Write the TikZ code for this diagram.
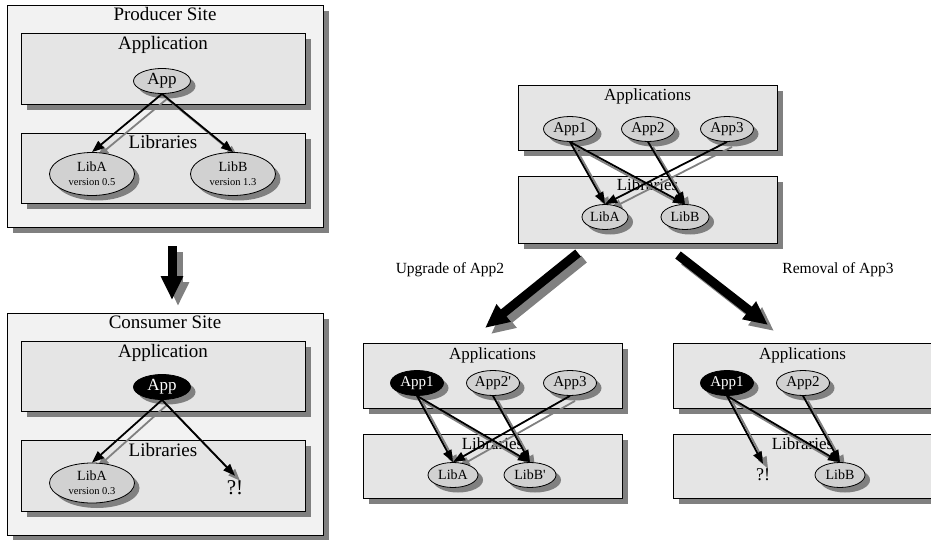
\documentclass[tikz,border=0pt]{standalone}
\usepackage{fontspec}
\setmainfont{Liberation Serif}[Ligatures=TeXOff]
\usepackage{tikz}
\usetikzlibrary{arrows.meta,shadows,shapes.geometric}
\definecolor{sitegray}{gray}{0.95}
\definecolor{boxgray}{gray}{0.90}
\definecolor{nodegray}{gray}{0.82}
\definecolor{shadegray}{gray}{0.5}
\pgfdeclarelayer{back}
\pgfdeclarelayer{mid}
\pgfsetlayers{back,mid,main}
\tikzstyle{Site}=[rectangle, draw=black, fill=sitegray, line width=0.8pt, drop shadow={shadow xshift=6pt, shadow yshift=-6pt, fill=shadegray, opacity=1}]
\tikzstyle{Layer}=[Site, fill=boxgray]
\tikzstyle{Comp}=[ellipse, draw=black, fill=nodegray, inner sep=0pt, line width=0.8pt, drop shadow={shadow xshift=5pt, shadow yshift=-5pt, fill=shadegray, opacity=1}]
\tikzstyle{Hot}=[Comp, fill=black, text=white]
\tikzstyle{dep}=[draw=black, line width=1.8pt, -{Triangle[length=12pt,width=9pt]}]
\tikzstyle{depshade}=[dep, draw=shadegray, fill=shadegray]
\tikzstyle{bigarrow}=[draw=black, line width=9pt, -{Triangle[length=24pt,width=21pt]}]
\tikzstyle{bigshade}=[bigarrow, draw=shadegray]
\tikzstyle{T19}=[font=\fontsize{19pt}{22pt}\selectfont, anchor=base, inner sep=0pt]
\tikzstyle{T17}=[font=\fontsize{17pt}{20pt}\selectfont, anchor=base, inner sep=0pt]
\tikzstyle{T15}=[font=\fontsize{15.5pt}{18pt}\selectfont, anchor=base, inner sep=0pt]

\begin{document}
\begin{tikzpicture}[x=1pt, y=-1pt]
    \clip (0,0) rectangle (931,540);

    \begin{pgfonlayer}{back}
    \path
    (165,116) node[Site, minimum width=316pt, minimum height=222pt] (psite) {}
    (163,68.5) node[Layer, minimum width=284pt, minimum height=71pt] (papps) {}
    (163,168) node[Layer, minimum width=284pt, minimum height=70pt] (plibs) {}
    (165,21) node[T19] (ptitle) {Producer Site}
    (163,49.5) node[T19] (pappt) {Application}
    (163,149) node[T19] (plibt) {Libraries}

    (165,424) node[Site, minimum width=316pt, minimum height=222pt] (csite) {}
    (163,376) node[Layer, minimum width=284pt, minimum height=70pt] (capps) {}
    (163,475.5) node[Layer, minimum width=284pt, minimum height=71pt] (clibs) {}
    (165,328.5) node[T19] (ctitle) {Consumer Site}
    (163,357.5) node[T19] (cappt) {Application}
    (163,456) node[T19] (clibt) {Libraries};

    \path
    (647.5,117.5) node[Layer, minimum width=259pt, minimum height=65pt] (tapps) {}
    (647.5,209.5) node[Layer, minimum width=259pt, minimum height=67pt] (tlibs) {}
    (647.5,101) node[T17] (tappt) {Applications}
    (647.5,190) node[T17] (tlibt) {Libraries}

    (492.5,375.5) node[Layer, minimum width=259pt, minimum height=65pt] (uapps) {}
    (492.5,466) node[Layer, minimum width=259pt, minimum height=64pt] (ulibs) {}
    (492.5,359.5) node[T17] (uappt) {Applications}
    (492.5,449.5) node[T17] (ulibt) {Libraries}

    (802.5,375.5) node[Layer, minimum width=259pt, minimum height=65pt] (rapps) {}
    (802.5,466) node[Layer, minimum width=259pt, minimum height=64pt] (rlibs) {}
    (802.5,359.5) node[T17] (rappt) {Applications}
    (802.5,449.5) node[T17] (rlibt) {Libraries};
    \end{pgfonlayer}

    \path
    (162,81) node[Comp, minimum width=57pt, minimum height=25pt, font=\fontsize{17pt}{20pt}\selectfont] (papp) {App}
    (92,174) node[Comp, minimum width=85pt, minimum height=43pt, align=center, font=\fontsize{14pt}{16pt}\selectfont] (pliba) {LibA\\[-2pt]{\fontsize{10.5pt}{12pt}\selectfont version 0.5}}
    (233,174) node[Comp, minimum width=85pt, minimum height=43pt, align=center, font=\fontsize{14pt}{16pt}\selectfont] (plibb) {LibB\\[-2pt]{\fontsize{10.5pt}{12pt}\selectfont version 1.3}}

    (162,387) node[Hot, minimum width=57pt, minimum height=25pt, font=\fontsize{17pt}{20pt}\selectfont] (capp) {App}
    (92,483) node[Comp, minimum width=85pt, minimum height=40pt, align=center, font=\fontsize{14pt}{16pt}\selectfont] (cliba) {LibA\\[-2pt]{\fontsize{10.5pt}{12pt}\selectfont version 0.3}}
    (235,488) node[font=\fontsize{21pt}{24pt}\selectfont, inner sep=5pt] (cmiss) {?!}

    (570,129) node[Comp, minimum width=53pt, minimum height=25pt, font=\fontsize{15pt}{18pt}\selectfont] (tapp1) {App1}
    (648,129) node[Comp, minimum width=53pt, minimum height=25pt, font=\fontsize{15pt}{18pt}\selectfont] (tapp2) {App2}
    (727,129) node[Comp, minimum width=53pt, minimum height=25pt, font=\fontsize{15pt}{18pt}\selectfont] (tapp3) {App3}
    (605,217) node[Comp, minimum width=46pt, minimum height=25pt, font=\fontsize{14pt}{17pt}\selectfont] (tliba) {LibA}
    (685,217) node[Comp, minimum width=48pt, minimum height=25pt, font=\fontsize{14pt}{17pt}\selectfont] (tlibb) {LibB}

    (417,383) node[Hot, minimum width=53pt, minimum height=25pt, font=\fontsize{15pt}{18pt}\selectfont] (uapp1) {App1}
    (493,383) node[Comp, minimum width=53pt, minimum height=25pt, font=\fontsize{15pt}{18pt}\selectfont] (uapp2) {App2'}
    (570,383) node[Comp, minimum width=53pt, minimum height=25pt, font=\fontsize{15pt}{18pt}\selectfont] (uapp3) {App3}
    (453,475) node[Comp, minimum width=50pt, minimum height=25pt, font=\fontsize{14pt}{17pt}\selectfont] (uliba) {LibA}
    (530,475) node[Comp, minimum width=52pt, minimum height=25pt, font=\fontsize{14pt}{17pt}\selectfont] (ulibb) {LibB'}

    (727,383) node[Hot, minimum width=53pt, minimum height=25pt, font=\fontsize{15pt}{18pt}\selectfont] (rapp1) {App1}
    (803,383) node[Comp, minimum width=53pt, minimum height=25pt, font=\fontsize{15pt}{18pt}\selectfont] (rapp2) {App2}
    (763,475) node[font=\fontsize{18pt}{21pt}\selectfont, inner sep=5pt] (rmiss) {?!}
    (840,475) node[Comp, minimum width=50pt, minimum height=25pt, font=\fontsize{14pt}{17pt}\selectfont] (rlibb) {LibB};

    \foreach \a/\b in {papp/pliba, papp/plibb, capp/cliba, capp/cmiss,
        tapp1/tliba, tapp1/tlibb, tapp2/tlibb, tapp3/tliba,
        uapp1/uliba, uapp1/ulibb, uapp2/ulibb, uapp3/uliba,
        rapp1/rmiss, rapp1/rlibb, rapp2/rlibb} {
      \begin{pgfonlayer}{mid}
      \draw[depshade] ([shift={(5,5)}]\a.south) -- ([shift={(5,5)}]\b.north);
      \end{pgfonlayer}
      \draw[dep] (\a.south) -- (\b.north);
    }

    \coordinate (dn1) at (172,246);
    \coordinate (dn2) at (172,300);
    \coordinate (up1) at (578,253);
    \coordinate (up2) at (485,328);
    \coordinate (rm1) at (678,255);
    \coordinate (rm2) at (768,325);
    \foreach \a/\b in {dn1/dn2, up1/up2, rm1/rm2} {
      \draw[bigshade] ([shift={(6,6)}]\a) -- ([shift={(6,6)}]\b);
      \draw[bigarrow] (\a) -- (\b);
    }
    \path (450,273) node[T15] (uplabel) {Upgrade of App2}
          (838,273) node[T15] (rmlabel) {Removal of App3};
\end{tikzpicture}
\end{document}
